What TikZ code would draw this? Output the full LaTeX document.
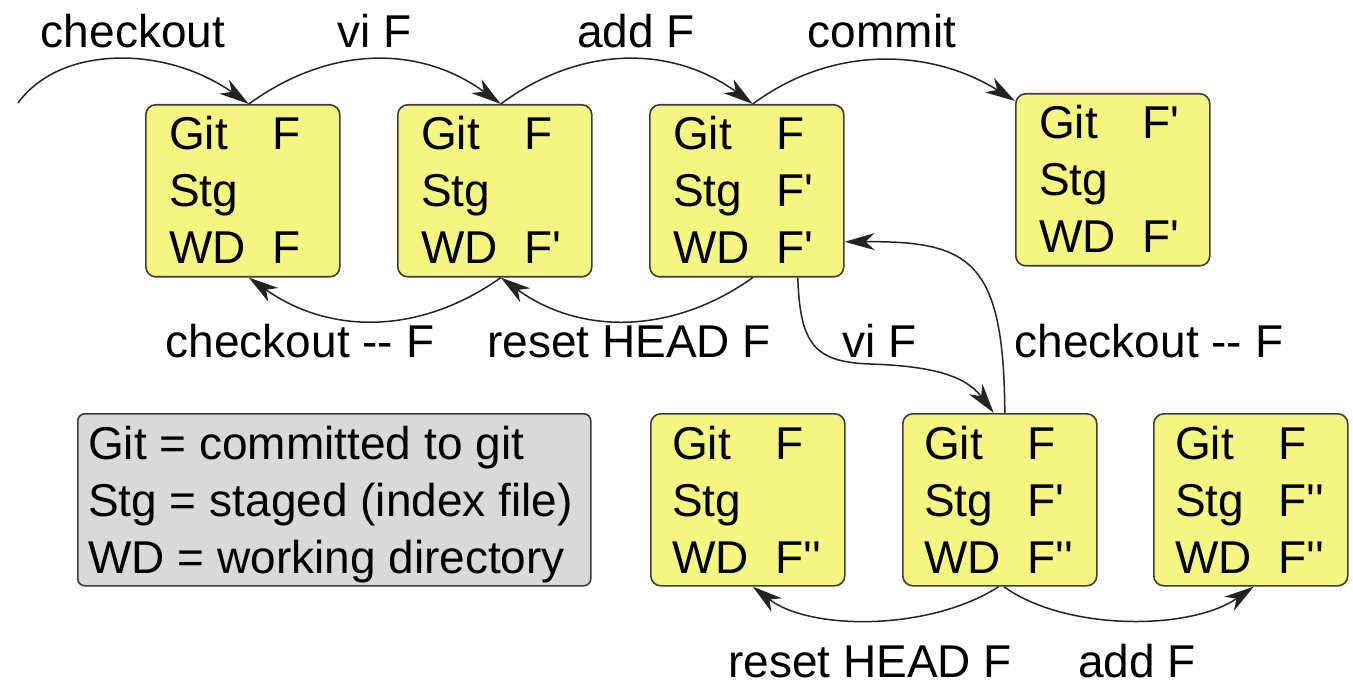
\documentclass[tikz,border=0pt]{standalone}
\usepackage{fontspec}
\newfontfamily\statefont{Liberation Sans}
\usetikzlibrary{arrows.meta}
\definecolor{stateyellow}{RGB}{245,245,130}
\definecolor{legendgrey}{RGB}{217,217,217}
\definecolor{edgecol}{RGB}{60,60,60}
\definecolor{arrowcol}{RGB}{35,35,35}
\newcommand\sfz{\statefont\fontsize{46}{57}\selectfont}
\newcommand\strows[3]{\begin{tabular}[t]{@{}p{103pt}@{}l@{}}Git&#1\\Stg&#2\\WD&#3\end{tabular}}
\begin{document}
\begin{tikzpicture}[x=1pt,y=-1pt,
  statebox/.style={draw=edgecol, line width=1.6pt, rounded corners=10pt, fill=stateyellow,
    minimum width=194pt, minimum height=172pt, inner sep=0pt, anchor=north west},
  legendbox/.style={draw=edgecol, line width=1.6pt, rounded corners=7pt, fill=legendgrey,
    minimum width=513pt, minimum height=172pt, inner sep=0pt, anchor=north west},
  txt/.style={font=\sfz, inner sep=0pt, anchor=base west},
  lbl/.style={font=\sfz, inner sep=0pt, anchor=base},
  arr/.style={line width=1.5pt, draw=arrowcol, -{Stealth[length=30pt,width=17pt,inset=9pt]}}]
\useasboundingbox (0,0) rectangle (1353,687);

% state boxes
\node[statebox] (b1) at (145,104) {};
\node[statebox] (b2) at (397,104) {};
\node[statebox] (b3) at (649,104) {};
\node[statebox] (b4) at (1015,93) {};
\node[statebox] (b5) at (650,413) {};
\node[statebox] (b6) at (902,413) {};
\node[statebox] (b7) at (1153,413) {};
\node[legendbox] (leg) at (77,413) {};

% box contents
\node[txt] (t1) at ([xshift=24pt,yshift=-46pt]b1.north west) {\strows{F}{}{F}};
\node[txt] (t2) at ([xshift=24pt,yshift=-46pt]b2.north west) {\strows{F}{}{F'}};
\node[txt] (t3) at ([xshift=24pt,yshift=-46pt]b3.north west) {\strows{F}{F'}{F'}};
\node[txt] (t4) at ([xshift=24pt,yshift=-46pt]b4.north west) {\strows{F'}{}{F'}};
\node[txt] (t5) at ([xshift=22pt,yshift=-46pt]b5.north west) {\strows{F}{}{F''}};
\node[txt] (t6) at ([xshift=22pt,yshift=-46pt]b6.north west) {\strows{F}{F'}{F''}};
\node[txt] (t7) at ([xshift=22pt,yshift=-46pt]b7.north west) {\strows{F}{F''}{F''}};
\node[txt] (tl) at ([xshift=11pt,yshift=-46pt]leg.north west)
  {\begin{tabular}[t]{@{}l@{}}Git = committed to git\\Stg = staged (index file)\\WD = working directory\end{tabular}};

% connectors
\coordinate (start) at (18,103);
\draw[arr] (start) .. controls (60,45) and (165,45) .. ([xshift=6pt]b1.north);
\draw[arr] ([xshift=6pt]b1.north) .. controls (330,45) and (420,45) .. ([xshift=6pt]b2.north);
\draw[arr] ([xshift=6pt]b2.north) .. controls (580,45) and (672,45) .. ([xshift=6pt]b3.north);
\draw[arr] ([xshift=6pt]b3.north) .. controls (832,45) and (930,48) .. ([yshift=-8pt]b4.north west);

\draw[arr] ([xshift=6pt]b2.south) .. controls (420,335) and (330,335) .. ([xshift=6pt]b1.south);
\draw[arr] ([xshift=6pt]b3.south) .. controls (672,335) and (580,335) .. ([xshift=6pt]b2.south);

\coordinate (bend) at (870,364);
\draw[arr] ([xshift=51pt]b3.south) .. controls (800,345) and (815,362) .. (bend)
  .. controls (930,366) and (965,375) .. ([xshift=-6pt]b6.north);
\draw[arr] ([xshift=5pt]b6.north) .. controls (1004,260) and (970,241) .. ([yshift=-51pt]b3.east);

\draw[arr] ([xshift=-1pt]b6.south) .. controls (930,631) and (810,631) .. ([xshift=5pt]b5.south);
\draw[arr] ([xshift=4pt]b6.south) .. controls (1065,631) and (1190,631) .. ([xshift=3pt]b7.south);

% labels
\node[lbl] (l1) at (133,48) {checkout};
\node[lbl] (l2) at (375,48) {vi F};
\node[lbl] (l3) at (636,48) {add F};
\node[lbl] (l4) at (882,48) {commit};
\node[lbl] (l5) at (300,357) {checkout -- F};
\node[lbl] (l6) at (629,357) {reset HEAD F};
\node[lbl] (l7) at (880,357) {vi F};
\node[lbl] (l8) at (1149,357) {checkout -- F};
\node[lbl] (l9) at (870,677) {reset HEAD F};
\node[lbl] (l10) at (1137,677) {add F};
\end{tikzpicture}
\end{document}
